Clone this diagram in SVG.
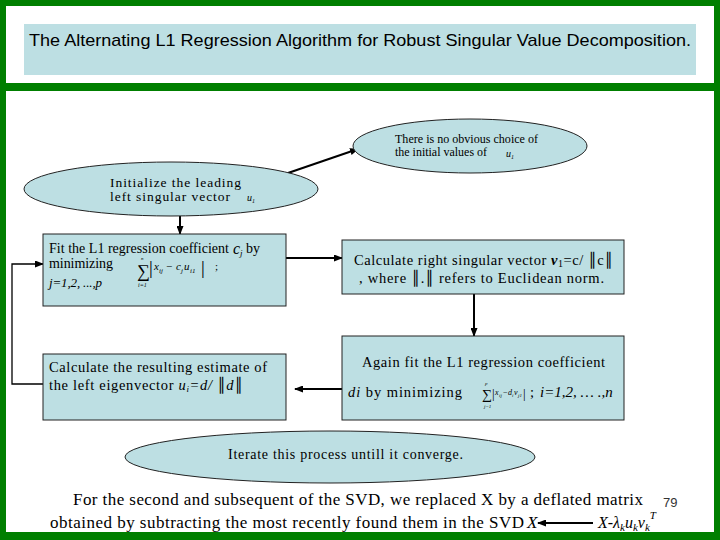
<svg xmlns="http://www.w3.org/2000/svg" width="720" height="540" viewBox="0 0 720 540">
<defs>
<marker id="ah" markerUnits="userSpaceOnUse" markerWidth="9" markerHeight="7" refX="8" refY="3.5" orient="auto">
<path d="M0,0 L9,3.5 L0,7 z" fill="#000"/>
</marker>
<style>
.shape{fill:#BDDFE3;stroke:#222;stroke-width:1}
.t{font-family:"Liberation Serif","Times New Roman",serif;fill:#000}
.i{font-style:italic}
.n{font-style:normal}
.conn{fill:none;stroke:#000;stroke-width:2;marker-end:url(#ah)}
.thin{stroke-width:1.3}
</style>
</defs>
<rect width="720" height="540" fill="#007F00"/>
<rect x="6" y="6" width="708" height="77" fill="#fff"/>
<rect x="6" y="91" width="708" height="441" fill="#fff"/>
<g id="title">
<rect x="24" y="24" width="672" height="51" fill="#BDDFE3"/>
<text x="29" y="46" font-family="Liberation Sans, Arial, sans-serif" font-size="17" textLength="662" lengthAdjust="spacingAndGlyphs">The Alternating L1 Regression Algorithm for Robust Singular Value Decomposition.</text>
</g>
<g id="connectors">
<path class="conn" d="M288,173 L358,149"/>
<path class="conn" d="M180,216 L180,234"/>
<path class="conn" d="M286,258 L342,258"/>
<path class="conn" d="M474,294 L474,336"/>
<path class="conn" d="M342,389 L295,389"/>
<path class="conn thin" d="M43,384 L12,384 L12,264 L43,264"/>
<path class="conn" d="M593,523 L538,523"/>
</g>
<g id="note">
<ellipse class="shape" cx="470" cy="146" rx="117" ry="27"/>
<text class="t" x="395" y="143" font-size="11.5" textLength="143" lengthAdjust="spacingAndGlyphs">There is no obvious choice of</text>
<text class="t" x="395" y="156" font-size="11.5" textLength="92" lengthAdjust="spacingAndGlyphs">the initial values of</text>
<text class="t i" x="506" y="157" font-size="10">u<tspan font-size="6" dy="2">1</tspan></text>
</g>
<g id="init">
<ellipse class="shape" cx="171" cy="189" rx="147" ry="27"/>
<text class="t" x="110" y="187" font-size="13.5" textLength="131">Initialize the leading</text>
<text class="t" x="110" y="201" font-size="13.5" textLength="120">left singular vector</text>
<text class="t i" x="247" y="201" font-size="10">u<tspan font-size="6" dy="2">1</tspan></text>
</g>
<g id="fit-c">
<rect class="shape" x="43" y="234" width="243" height="72"/>
<text class="t" x="49" y="253" font-size="14" textLength="180">Fit the L1 regression coefficient</text>
<text class="t i" x="233" y="254" font-size="16">c<tspan font-size="9" dy="2">j</tspan></text>
<text class="t" x="246" y="253" font-size="14">by</text>
<text class="t" x="49" y="268" font-size="14" textLength="64">minimizing</text>
<text class="t i" x="49" y="287" font-size="13" textLength="53">j=1,2, ...,p</text>
<text class="t i" font-size="11"><tspan class="n" x="137" y="277" font-size="18">∑</tspan><tspan x="141" y="260" font-size="5">n</tspan><tspan x="138" y="287" font-size="6">i=1</tspan><tspan class="n" x="149" y="274" font-size="19">|</tspan><tspan x="154" y="270">x</tspan><tspan x="159" y="273" font-size="7">ij</tspan><tspan class="n" x="166" y="270">−</tspan><tspan x="176" y="270">c</tspan><tspan x="181" y="273" font-size="7">j</tspan><tspan x="184" y="270">u</tspan><tspan x="190" y="273" font-size="7">i1</tspan><tspan class="n" x="201" y="274" font-size="19">|</tspan><tspan class="n" x="215" y="270">;</tspan></text>
</g>
<g id="calc-v">
<rect class="shape" x="342" y="240" width="282" height="54"/>
<text class="t" x="354" y="265" font-size="14.5" textLength="259">Calculate right singular vector <tspan font-weight="bold" font-style="italic">v</tspan><tspan font-size="10" dy="2">1</tspan><tspan dy="-2">=c/ </tspan><tspan font-family="DejaVu Sans">║</tspan>c<tspan font-family="DejaVu Sans">║</tspan></text>
<text class="t" x="359" y="283" font-size="14.5" textLength="245">, where <tspan font-family="DejaVu Sans">║</tspan>.<tspan font-family="DejaVu Sans">║</tspan> refers to Euclidean norm.</text>
</g>
<g id="fit-d">
<rect class="shape" x="342" y="336" width="282" height="84"/>
<text class="t" x="362" y="367" font-size="14.5" textLength="243">Again fit the L1 regression coefficient</text>
<text class="t" x="348" y="397" font-size="14.5" textLength="114"><tspan font-style="italic">di</tspan> by minimizing</text>
<text class="t i" font-size="8"><tspan class="n" x="482" y="399" font-size="14">∑</tspan><tspan x="485" y="385" font-size="5">p</tspan><tspan x="484" y="408" font-size="5">j=1</tspan><tspan class="n" x="492" y="398" font-size="13">|</tspan><tspan x="495" y="395">x</tspan><tspan x="499" y="397" font-size="5">ij</tspan><tspan class="n" x="503" y="395">−</tspan><tspan x="508" y="395">d</tspan><tspan x="512" y="397" font-size="5">i</tspan><tspan x="514" y="395">v</tspan><tspan x="518" y="397" font-size="5">j1</tspan><tspan class="n" x="523" y="398" font-size="13">|</tspan><tspan class="n" x="530" y="397" font-size="14.5">;</tspan><tspan x="540" y="397" font-size="15">i=1,2, … .,n</tspan></text>
</g>
<g id="calc-u">
<rect class="shape" x="43" y="354" width="243" height="66"/>
<text class="t" x="49" y="372" font-size="14.5" textLength="218">Calculate the resulting estimate of</text>
<text class="t" x="49" y="390" font-size="14.5" textLength="194">the left eigenvector <tspan font-style="italic">u</tspan><tspan font-size="9" dy="2" font-style="italic">i</tspan><tspan dy="-2" font-style="italic">=d/ </tspan><tspan font-family="DejaVu Sans">║</tspan><tspan font-style="italic">d</tspan><tspan font-family="DejaVu Sans">║</tspan></text>
</g>
<g id="iterate">
<ellipse class="shape" cx="330" cy="457" rx="205" ry="26"/>
<text class="t" x="228" y="459" font-size="14" textLength="235">Iterate this process untill it converge.</text>
</g>
<g id="footer">
<text class="t" x="73" y="505" font-size="17" textLength="570">For the second and subsequent of the SVD, we replaced X by a deflated matrix</text>
<text x="663" y="507" font-family="Liberation Sans, Arial, sans-serif" font-size="13" fill="#333">79</text>
<text class="t" x="50" y="528" font-size="17" textLength="474">obtained by subtracting the most recently found them in the SVD</text>
<text class="t i" x="527" y="528" font-size="17">X</text>
<text class="t i" x="598" y="528" font-size="16">X-λ<tspan font-size="11" dy="3">k</tspan><tspan dy="-3">u</tspan><tspan font-size="11" dy="3">k</tspan><tspan dy="-3">v</tspan><tspan font-size="11" dy="3">k</tspan><tspan font-size="11" dy="-12">T</tspan></text>
</g>
</svg>
